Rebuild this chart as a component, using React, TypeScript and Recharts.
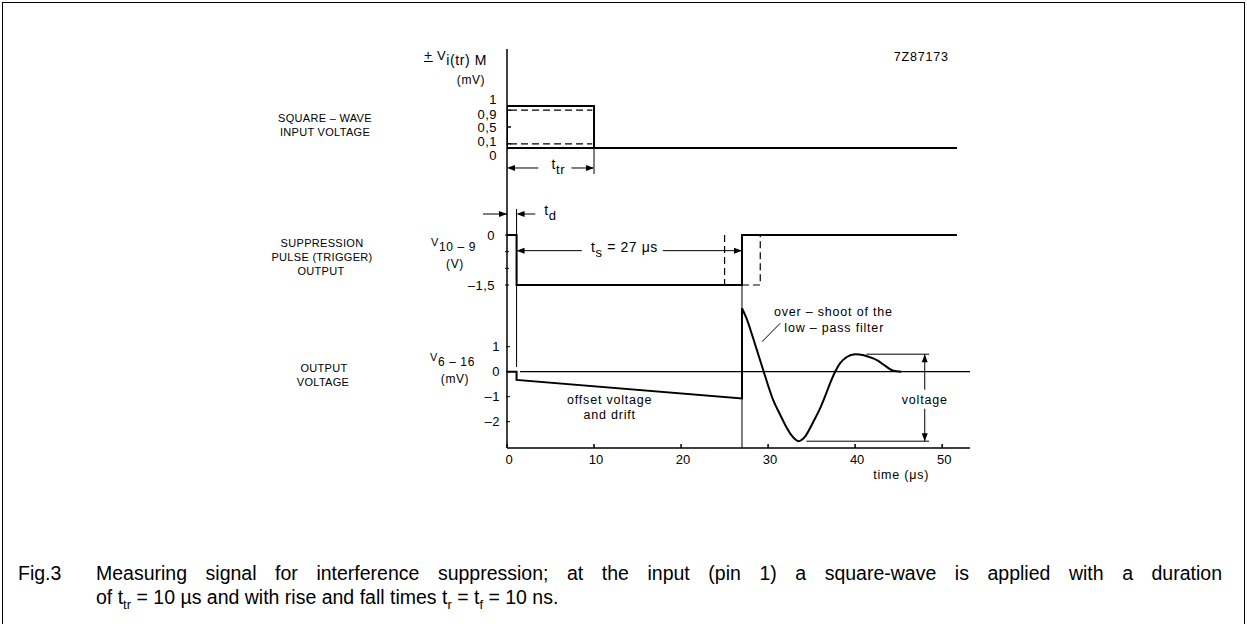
import React from "react";
import {
  ComposedChart,
  Line,
  XAxis,
  YAxis,
  ReferenceLine,
  ReferenceDot,
} from "recharts";

// time axis (µs)
const timeTicks = [0, 10, 20, 30, 40, 50];

// square-wave input (mV)
const inputT = [10, 0, 0, 10, 10, 51.7];
const inputV = [0, 0, 1, 1, 0, 0];
const inputTicks = [0, 0.1, 0.5, 0.9, 1];
const inputTickLabels = ["0", "0,1", "0,5", "0,9", "1"];
const lowLevelT = [0.35, 9.8];
const lowLevelV = [0.1, 0.1];
const highLevelT = [0.35, 9.8];
const highLevelV = [0.9, 0.9];

// suppression pulse (V)
const pulseT = [0, 1.1, 1.1, 27, 27, 51.7];
const pulseV = [0, 0, -1.5, -1.5, 0, 0];
const pulseEarlyT = [25, 25];
const pulseEarlyV = [0, -1.5];
const pulseLateT = [27, 29.1, 29.1];
const pulseLateV = [-1.5, -1.5, 0];
const pulseTicks = [0, -0.5, -1, -1.5];
const pulseTickLabels = ["0", "", "", "\u20131,5"];

// output voltage (mV)
const outT = [0, 1.1, 1.1, 27, 27];
const outV = [0, 0, -0.33, -1.07, 2.54];
const ringT = [27, 27.5, 28, 28.5, 29, 29.5, 30, 30.6, 31.4, 32, 32.7, 33.5, 34.2, 35.2, 36, 36.7, 37.2, 37.7, 38.3, 39, 40, 41, 42, 42.5, 43.5, 44.4, 45.3];
const ringV = [2.54, 2.15, 1.65, 1.1, 0.55, 0, -0.55, -1.15, -1.73, -2.15, -2.55, -2.78, -2.62, -2.0, -1.45, -0.85, -0.4, 0, 0.35, 0.58, 0.7, 0.66, 0.54, 0.46, 0.22, 0.04, 0];
const baseT = [1.5, 53.2];
const baseV = [0, 0];
const outTicks = [1, 0, -1, -2];
const outTickLabels = ["1", "0", "\u20131", "\u20132"];

// thin guide lines: axis, x1, y1, x2, y2
const guides: [string, number, number, number, number][] = [
  ["in", 10, 0, 10, -0.62],
  ["in", 0.3, -0.476, 3.6, -0.476],
  ["in", 7.4, -0.476, 9.9, -0.476],
  ["pulse", 1.1, 0.78, 1.1, -3.96],
  ["pulse", -2.76, 0.63, 0, 0.63],
  ["pulse", 1.3, 0.63, 3.25, 0.63],
  ["pulse", 1.3, -0.47, 8.6, -0.47],
  ["pulse", 17.9, -0.47, 27, -0.47],
  ["out", 27, 3.5, 27, -3.05],
  ["out", 41.3, 0.7, 48.5, 0.7],
  ["out", 34.4, -2.78, 48.5, -2.78],
  ["out", 48, 0.7, 48, -0.72],
  ["out", 48, -1.48, 48, -2.78],
  ["out", 31.4, 1.94, 29.3, 1.2],
];

// arrow heads: axis, x, y, direction
const arrows: [string, number, number, string][] = [
  ["in", 0, -0.476, "l"],
  ["in", 10, -0.476, "r"],
  ["pulse", 0, 0.63, "r"],
  ["pulse", 1.1, 0.63, "l"],
  ["pulse", 1.1, -0.47, "l"],
  ["pulse", 27, -0.47, "r"],
  ["out", 48, 0.7, "u"],
  ["out", 48, -2.78, "d"],
];

// plain annotations: axis, x, y, text
const notes: [string, number, number, string][] = [
  ["in", 47.6, 2.19, "7Z87173"],
  ["out", 11.8, -1.13, "offset voltage"],
  ["out", 11.8, -1.73, "and drift"],
  ["out", 37.5, 2.4, "over \u2013 shoot of the"],
  ["out", 37.6, 1.78, "low \u2013 pass filter"],
  ["out", 48, -1.1, "voltage"],
  ["out", 45.3, -4.13, "time (\u03bcs)"],
];

// subscripted annotations: axis, x, y, main, sub, rest
const subNotes: [string, number, number, string, string, string][] = [
  ["in", 5.9, -0.476, "t", "tr", ""],
  ["pulse", 5.0, 0.63, "t", "d", ""],
  ["pulse", 13.5, -0.47, "t", "s", " = 27 \u03bcs"],
];

const zip = (t: number[], v: number[]) => t.map((x, i) => ({ t: x, v: v[i] }));

const FONT = "'Liberation Sans', Arial, Helvetica, sans-serif";

const makeTick = (ticks: number[], labels: string[], shift: Record<string, number>) =>
  (props: any) => {
    const { x, y, payload } = props;
    const i = ticks.indexOf(payload.value);
    const label = i >= 0 ? labels[i] : "";
    return (
      <text
        x={x}
        y={y + (shift[String(payload.value)] ?? 0)}
        dy="0.36em"
        textAnchor="end"
        fontSize={13}
        fontFamily={FONT}
        fill="#000"
        letterSpacing={0.5}
      >
        {label}
      </text>
    );
  };

const arrowShape = (dir: string) => (p: any) => {
  const { cx, cy } = p;
  const L = 8;
  const w = 3;
  let d = "";
  if (dir === "r") d = `M${cx},${cy} L${cx - L},${cy - w} L${cx - L},${cy + w} Z`;
  if (dir === "l") d = `M${cx},${cy} L${cx + L},${cy - w} L${cx + L},${cy + w} Z`;
  if (dir === "u") d = `M${cx},${cy} L${cx - w},${cy + L} L${cx + w},${cy + L} Z`;
  if (dir === "d") d = `M${cx},${cy} L${cx - w},${cy - L} L${cx + w},${cy - L} Z`;
  return <path d={d} fill="#000" />;
};

const textShape = (text: string) => (p: any) => (
  <text
    x={p.cx}
    y={p.cy}
    dy="0.36em"
    textAnchor="middle"
    fontSize={12.5}
    fontFamily={FONT}
    letterSpacing={0.8}
    fill="#000"
  >
    {text}
  </text>
);

const subShape = (main: string, sub: string, rest: string) => (p: any) => (
  <text
    x={p.cx}
    y={p.cy}
    dy="0.1em"
    textAnchor="middle"
    fontSize={14}
    fontFamily={FONT}
    letterSpacing={0.6}
    fill="#000"
  >
    <tspan>{main}</tspan>
    <tspan fontSize={13} dy={5}>{sub}</tspan>
    {rest ? <tspan dy={-5}>{rest}</tspan> : null}
  </text>
);

const Note = ({ x, y, children, size = 11, spacing = 0.3 }: any) => (
  <div
    style={{
      position: "absolute",
      left: x,
      top: y,
      transform: "translate(-50%, -50%)",
      fontFamily: FONT,
      fontSize: size,
      letterSpacing: spacing,
      whiteSpace: "nowrap",
      lineHeight: 1,
      color: "#000",
    }}
  >
    {children}
  </div>
);

const AxisTitle = ({ x, y, pre, main, sub, size = 12 }: any) => (
  <div
    style={{
      position: "absolute",
      left: x,
      top: y,
      fontFamily: FONT,
      fontSize: size,
      letterSpacing: 0.6,
      whiteSpace: "nowrap",
      lineHeight: 1,
    }}
  >
    {pre}
    <span style={{ fontSize: size - 1 }}>{main}</span>
    <span style={{ position: "relative", top: 5 }}>{sub}</span>
  </div>
);

export default function App() {
  return (
    <div
      style={{
        position: "absolute",
        left: 0,
        top: 0,
        width: 1247,
        height: 624,
        background: "#fff",
        overflow: "hidden",
      }}
    >
      <div
        style={{
          position: "absolute",
          left: 2,
          top: 2,
          width: 1241,
          height: 640,
          border: "1.5px solid #000",
        }}
      />

      <div style={{ position: "absolute", left: 0, top: 0 }}>
        <ComposedChart
          width={1247}
          height={624}
          margin={{ top: 49, left: 504, right: 277, bottom: 146 }}
        >
          <XAxis
            type="number"
            dataKey="t"
            domain={[0, 53.2]}
            allowDataOverflow
            ticks={timeTicks}
            interval={0}
            height={30}
            tickSize={-4}
            tickMargin={11}
            stroke="#000"
            strokeWidth={1.5}
            tick={{ fontSize: 13, fontFamily: FONT, fill: "#000", dx: 2 }}
          />
          <YAxis
            yAxisId="in"
            type="number"
            width={1}
            domain={[-7.143, 2.357]}
            allowDataOverflow
            ticks={inputTicks}
            interval={0}
            tickSize={-4}
            tickMargin={14}
            stroke="#000"
            strokeWidth={1.5}
            tick={makeTick(inputTicks, inputTickLabels, { "1": -7, "0.9": 4, "0.1": -2, "0": 7 })}
          />
          <YAxis
            yAxisId="pulse"
            type="number"
            width={1}
            domain={[-6.39, 5.58]}
            allowDataOverflow
            ticks={pulseTicks}
            interval={0}
            tickSize={-4}
            tickMargin={14}
            axisLine={false}
            stroke="#000"
            tick={makeTick(pulseTicks, pulseTickLabels, {})}
          />
          <YAxis
            yAxisId="out"
            type="number"
            width={1}
            domain={[-3.052, 12.908]}
            allowDataOverflow
            ticks={outTicks}
            interval={0}
            tickSize={-4}
            tickMargin={10}
            axisLine={false}
            stroke="#000"
            tick={makeTick(outTicks, outTickLabels, {})}
          />

          {guides.map(([ax, x1, y1, x2, y2], i) => (
            <ReferenceLine
              key={`g${i}`}
              yAxisId={ax}
              segment={[
                { x: x1, y: y1 },
                { x: x2, y: y2 },
              ]}
              stroke="#000"
              strokeWidth={1}
              ifOverflow="visible"
            />
          ))}

          <Line yAxisId="in" data={zip(inputT, inputV)} dataKey="v" type="linear" stroke="#000" strokeWidth={2} dot={false} isAnimationActive={false} />
          <Line yAxisId="in" data={zip(lowLevelT, lowLevelV)} dataKey="v" type="linear" stroke="#000" strokeWidth={1.2} strokeDasharray="7 4" dot={false} isAnimationActive={false} />
          <Line yAxisId="in" data={zip(highLevelT, highLevelV)} dataKey="v" type="linear" stroke="#000" strokeWidth={1.2} strokeDasharray="7 4" dot={false} isAnimationActive={false} />

          <Line yAxisId="pulse" data={zip(pulseT, pulseV)} dataKey="v" type="linear" stroke="#000" strokeWidth={2} dot={false} isAnimationActive={false} />
          <Line yAxisId="pulse" data={zip(pulseEarlyT, pulseEarlyV)} dataKey="v" type="linear" stroke="#000" strokeWidth={1.2} strokeDasharray="7 4" dot={false} isAnimationActive={false} />
          <Line yAxisId="pulse" data={zip(pulseLateT, pulseLateV)} dataKey="v" type="linear" stroke="#000" strokeWidth={1.2} strokeDasharray="7 4" dot={false} isAnimationActive={false} />

          <Line yAxisId="out" data={zip(baseT, baseV)} dataKey="v" type="linear" stroke="#000" strokeWidth={1.2} dot={false} isAnimationActive={false} />
          <Line yAxisId="out" data={zip(outT, outV)} dataKey="v" type="linear" stroke="#000" strokeWidth={2} dot={false} isAnimationActive={false} />
          <Line yAxisId="out" data={zip(ringT, ringV)} dataKey="v" type="monotone" stroke="#000" strokeWidth={2} dot={false} isAnimationActive={false} />

          {arrows.map(([ax, x, y, dir], i) => (
            <ReferenceDot key={`a${i}`} yAxisId={ax} x={x} y={y} r={0} ifOverflow="visible" shape={arrowShape(dir)} />
          ))}
          {notes.map(([ax, x, y, text], i) => (
            <ReferenceDot key={`n${i}`} yAxisId={ax} x={x} y={y} r={0} ifOverflow="visible" shape={textShape(text)} />
          ))}
          {subNotes.map(([ax, x, y, main, sub, rest], i) => (
            <ReferenceDot key={`s${i}`} yAxisId={ax} x={x} y={y} r={0} ifOverflow="visible" shape={subShape(main, sub, rest)} />
          ))}
        </ComposedChart>
      </div>

      {/* panel descriptions */}
      <Note x={325} y={118}>SQUARE – WAVE</Note>
      <Note x={325} y={132}>INPUT VOLTAGE</Note>
      <Note x={322} y={243}>SUPPRESSION</Note>
      <Note x={322} y={257}>PULSE (TRIGGER)</Note>
      <Note x={321} y={271}>OUTPUT</Note>
      <Note x={324} y={368}>OUTPUT</Note>
      <Note x={323} y={382}>VOLTAGE</Note>

      {/* axis titles */}
      <AxisTitle x={424} y={48} size={14} pre={<span style={{ textDecoration: "underline" }}>+</span>} main=" V" sub="i(tr) M" />
      <Note x={471} y={80} size={12} spacing={0.6}>(mV)</Note>
      <AxisTitle x={431} y={236} pre="" main="V" sub="10 – 9" />
      <Note x={455} y={264} size={12} spacing={0.6}>(V)</Note>
      <AxisTitle x={430} y={351} pre="" main="V" sub="6 – 16" />
      <Note x={455} y={379} size={12} spacing={0.6}>(mV)</Note>

      {/* caption */}
      <div
        style={{
          position: "absolute",
          left: 18,
          top: 561,
          fontFamily: FONT,
          fontSize: 19.5,
          lineHeight: "24px",
          whiteSpace: "nowrap",
        }}
      >
        Fig.3
      </div>
      <div
        style={{
          position: "absolute",
          left: 96,
          top: 561,
          width: 1126,
          fontFamily: FONT,
          fontSize: 19.5,
          lineHeight: "24px",
        }}
      >
        <div style={{ textAlign: "justify", textAlignLast: "justify" }}>
          Measuring signal for interference suppression; at the input (pin 1) a square-wave is applied with a duration
        </div>
        <div style={{ whiteSpace: "nowrap" }}>
          of t<sub style={{ fontSize: 13, lineHeight: 0 }}>tr</sub> = 10 µs and with rise and fall times t
          <sub style={{ fontSize: 13, lineHeight: 0 }}>r</sub> = t<sub style={{ fontSize: 13, lineHeight: 0 }}>f</sub> = 10 ns.
        </div>
      </div>
    </div>
  );
}
